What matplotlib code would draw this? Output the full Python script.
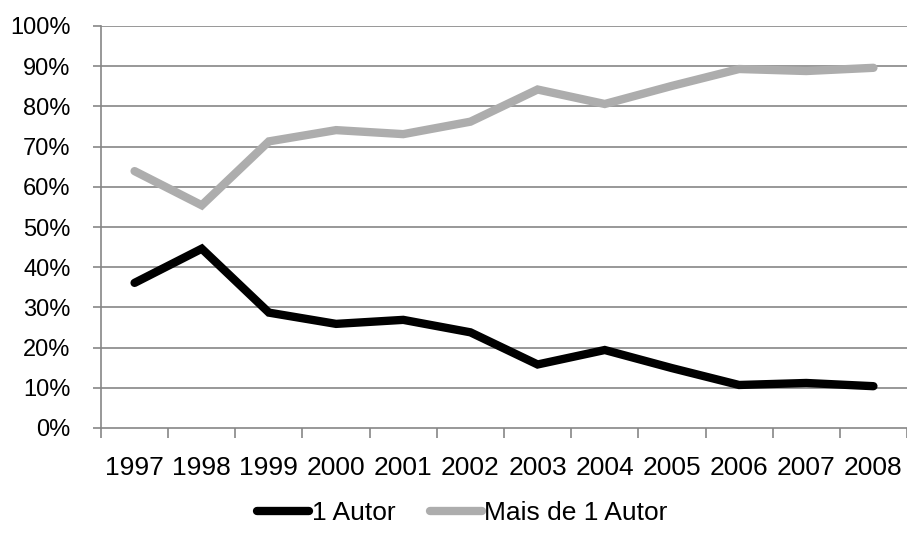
import numpy as np
import matplotlib.pyplot as plt
from matplotlib.ticker import FixedLocator, FuncFormatter

plt.rcParams['font.family'] = ['Liberation Sans', 'DejaVu Sans']

# dados
anos = ['1997', '1998', '1999', '2000', '2001', '2002',
        '2003', '2004', '2005', '2006', '2007', '2008']
um_autor = [36.1, 44.6, 28.7, 25.9, 26.9, 23.8, 15.8, 19.4, 14.9, 10.7, 11.2, 10.4]
mais_de_um = [63.9, 55.4, 71.3, 74.1, 73.1, 76.2, 84.2, 80.6, 85.1, 89.3, 88.8, 89.6]

fig = plt.figure(figsize=(9.07, 5.38), dpi=100)
ax = fig.add_axes([101 / 907, 1 - 428 / 538, 1 - 101 / 907, (428 - 26) / 538])

x = np.arange(len(anos))
grid_cor = '#868686'

ax.plot(x, um_autor, color='black', lw=6, solid_capstyle='round',
        solid_joinstyle='miter', label='1 Autor', zorder=3)
ax.plot(x, mais_de_um, color='#adadad', lw=6, solid_capstyle='round',
        solid_joinstyle='miter', label='Mais de 1 Autor', zorder=3)

ax.set_xlim(-0.5, len(anos) - 0.5)
ax.set_ylim(0, 100)

# eixo y
ax.set_yticks(np.arange(0, 101, 10))
ax.yaxis.set_major_formatter(FuncFormatter(lambda v, p: f'{v:.0f}%'))
ax.tick_params(axis='y', length=6, width=1.2, color=grid_cor, labelsize=17, pad=16)
for yv in range(10, 101, 10):
    ax.axhline(yv, color=grid_cor, lw=1.2, zorder=1)

# eixo x: marcas entre categorias
ax.set_xticks(x)
ax.set_xticklabels(anos)
ax.tick_params(axis='x', which='major', length=0, labelsize=19, pad=20)
ax.xaxis.set_minor_locator(FixedLocator(np.arange(-0.5, len(anos), 1)))
ax.tick_params(axis='x', which='minor', length=7, width=1.2, color=grid_cor)

for lado in ['top', 'right']:
    ax.spines[lado].set_visible(False)
for lado in ['left', 'bottom']:
    ax.spines[lado].set_color(grid_cor)
    ax.spines[lado].set_linewidth(1.2)

fig.legend(loc='center', bbox_to_anchor=(0.51, 0.046), ncol=2, frameon=False,
           fontsize=19, handlelength=1.97, handletextpad=0.1, columnspacing=1.3)

fig.savefig('out.png', dpi=100)
